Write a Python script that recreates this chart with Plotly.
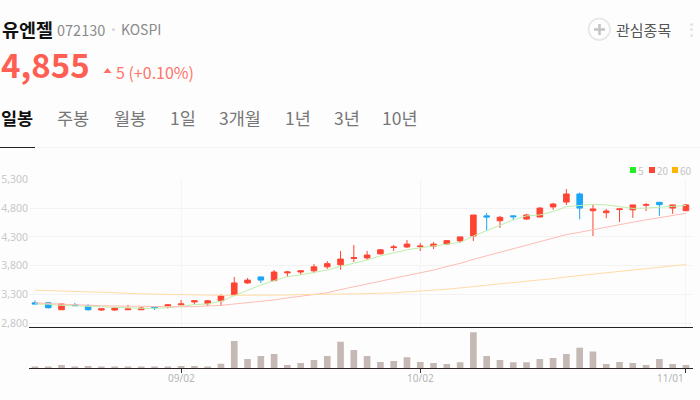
import plotly.graph_objects as go

W = 700
H = 400

day = list(range(50))
open_p = [3155, 3155, 3035, 3125, 3100, 3030, 3030, 3035, 3035, 3090, 3100, 3120, 3170, 3140, 3190, 3290, 3500, 3605, 3540, 3675,
          3690, 3710, 3780, 3815, 3925, 3935, 4005, 4115, 4125, 4130, 4140, 4175, 4230, 4315, 4665, 4580, 4665, 4610, 4645, 4820,
          4905, 5045, 4755, 4720, 4775, 4770, 4850, 4900, 4800, 4755]
close_p = [3135, 3070, 3135, 3105, 3035, 3050, 3065, 3050, 3065, 3065, 3120, 3135, 3190, 3190, 3280, 3500, 3550, 3550, 3690, 3690,
           3710, 3780, 3835, 3915, 3940, 3985, 4075, 4125, 4175, 4140, 4175, 4235, 4300, 4680, 4645, 4640, 4650, 4680, 4800, 4870,
           5045, 4800, 4785, 4750, 4785, 4855, 4860, 4860, 4855, 4855]
high_p = [3195, 3155, 3135, 3155, 3130, 3050, 3085, 3120, 3090, 3090, 3120, 3205, 3190, 3205, 3305, 3605, 3585, 3605, 3725, 3710,
          3710, 3830, 3880, 4055, 4160, 4055, 4090, 4160, 4245, 4195, 4210, 4245, 4300, 4680, 4715, 4665, 4665, 4700, 4815, 4890,
          5130, 5070, 4855, 4785, 4785, 4855, 4890, 4900, 4855, 4870]
low_p = [3130, 3055, 3035, 3100, 3020, 3015, 3015, 3030, 3030, 3030, 3055, 3120, 3135, 3100, 3100, 3290, 3485, 3500, 3540, 3605,
         3640, 3670, 3745, 3730, 3865, 3900, 4000, 4055, 4110, 4055, 4090, 4160, 4195, 4230, 4405, 4455, 4595, 4595, 4645, 4770,
         4855, 4605, 4315, 4625, 4560, 4630, 4750, 4665, 4700, 4750]

ma5 = [3135, 3130, 3110, 3100, 3090, 3080, 3070, 3065, 3060, 3060, 3070, 3095, 3125, 3135, 3180, 3280, 3375, 3465, 3540, 3610,
       3640, 3680, 3725, 3785, 3840, 3900, 3970, 4025, 4075, 4110, 4140, 4175, 4205, 4315, 4410, 4495, 4595, 4665, 4680, 4740,
       4825, 4845, 4865, 4855, 4825, 4795, 4800, 4810, 4830, 4845]
ma20 = [3155, 3140, 3130, 3125, 3110, 3105, 3100, 3095, 3090, 3090, 3085, 3085, 3090, 3095, 3110, 3135, 3155, 3175, 3205, 3240,
        3270, 3305, 3330, 3385, 3430, 3485, 3530, 3580, 3630, 3670, 3725, 3785, 3840, 3910, 3970, 4035, 4090, 4155, 4210, 4275,
        4340, 4380, 4425, 4465, 4520, 4555, 4595, 4635, 4670, 4710]
ma60 = [3375, 3365, 3360, 3355, 3345, 3340, 3325, 3320, 3310, 3305, 3305, 3290, 3290, 3285, 3285, 3285, 3285, 3290, 3290, 3290,
        3300, 3300, 3300, 3305, 3310, 3315, 3320, 3330, 3345, 3355, 3375, 3390, 3410, 3430, 3460, 3485, 3505, 3530, 3550, 3575,
        3605, 3630, 3650, 3675, 3695, 3720, 3745, 3770, 3795, 3820]

volume = [3, 4, 10, 3, 7, 4, 3, 4, 3, 3, 3, 7, 7, 5, 14, 82, 28, 37, 43, 10,
          16, 25, 37, 80, 55, 37, 19, 22, 33, 19, 16, 13, 18, 109, 37, 25, 18, 18, 28, 31,
          43, 62, 51, 13, 19, 16, 10, 28, 13, 10]

price_ticks = [2800, 3300, 3800, 4300, 4800, 5300]
date_ticks = [11, 29, 49]
date_labels = ["09/02", "10/02", "11/01"]
tabs = ["일봉", "주봉", "월봉", "1일", "3개월", "1년", "3년", "10년"]
legend_names = ["5", "20", "60"]

RED = "#ff4433"
BLUE = "#1ba6f5"
KR = "Noto Sans CJK KR"


def px_x(x):
    return x / W


def px_y(y):
    return 1 - y / H


def label(x, y, text, size, color, anchor="left", bold=False):
    if bold:
        text = "<b>" + text + "</b>"
    fig.add_annotation(x=px_x(x), y=px_y(y), xref="paper", yref="paper", text=text, showarrow=False,
                       xanchor=anchor, yanchor="middle", borderpad=0, borderwidth=0,
                       font=dict(family=KR, size=size, color=color))


def box(x0, y0, x1, y1, color):
    fig.add_shape(type="rect", xref="paper", yref="paper", x0=px_x(x0), x1=px_x(x1), y0=px_y(y0), y1=px_y(y1),
                  fillcolor=color, line_width=0)


fig = go.Figure()

fig.add_trace(go.Candlestick(x=day, open=open_p, high=high_p, low=low_p, close=close_p,
                             increasing=dict(line=dict(color=RED, width=1), fillcolor=RED),
                             decreasing=dict(line=dict(color=BLUE, width=1), fillcolor=BLUE),
                             whiskerwidth=0, xaxis="x", yaxis="y", hoverinfo="skip"))
fig.add_trace(go.Scatter(x=day, y=ma5, mode="lines", line=dict(color="#bdeeaa", width=1), xaxis="x", yaxis="y"))
fig.add_trace(go.Scatter(x=day, y=ma20, mode="lines", line=dict(color="#ffbcb4", width=1), xaxis="x", yaxis="y"))
fig.add_trace(go.Scatter(x=day, y=ma60, mode="lines", line=dict(color="#ffdca6", width=1), xaxis="x", yaxis="y"))
fig.add_trace(go.Bar(x=day, y=volume, marker=dict(color="#c4b9b4", line_width=0), width=0.5, xaxis="x2", yaxis="y2"))

fig.update_layout(
    width=W, height=H, margin=dict(l=0, r=0, t=0, b=0, pad=0),
    paper_bgcolor="#fdfdfd", plot_bgcolor="#fdfdfd", showlegend=False, boxgap=0.4,
    font=dict(family="Noto Sans", size=10, color="#c4c4c4"),
    xaxis=dict(domain=[px_x(29), px_x(693)], range=[-0.45, 49.53], rangeslider=dict(visible=False), automargin=False,
               tickmode="array", tickvals=date_ticks, ticktext=["", "", ""], ticklen=0,
               showgrid=True, gridcolor="#f4f4f4", gridwidth=1, zeroline=False, anchor="y",
               showline=True, linecolor="#222222", linewidth=1),
    yaxis=dict(domain=[px_y(327.3), px_y(179.3)], range=[2730, 5300], tickmode="array", tickvals=price_ticks,
               tickformat=",", showgrid=True, gridcolor="#f3f3f3", gridwidth=1, zeroline=False, ticklen=0, automargin=False,
               tickfont=dict(size=10.5, color="#c8c8c8"), anchor="x"),
    xaxis2=dict(domain=[px_x(29), px_x(693)], range=[-0.45, 49.53], tickmode="array", tickvals=date_ticks, automargin=False,
                ticktext=["", "", ""], ticks="outside", ticklen=4, tickcolor="#333333", tickwidth=1,
                showgrid=False, zeroline=False, showline=True, linecolor="#2a2222", linewidth=1, anchor="y2"),
    yaxis2=dict(domain=[px_y(368.3), px_y(327.5)], range=[0, 123], showticklabels=False, showgrid=False, automargin=False,
                zeroline=False, ticks="", anchor="x2"),
)

# date labels sit under the volume panel, the last one is pulled in from the edge
for tick, text in zip(date_ticks, date_labels):
    fig.add_annotation(x=tick, y=px_y(378), xref="x2", yref="paper", text=text, showarrow=False,
                       xanchor="right" if text == date_labels[-1] else "center", yanchor="middle",
                       font=dict(family="Noto Sans", size=10, color="#b5b5b5"))

# header
label(2, 29, "유엔젤", 18.5, "#111111", bold=True)
label(57, 29.5, "072130", 14.5, "#8a8a8a")
label(121, 29.5, "KOSPI", 14, "#8a8a8a")
fig.add_shape(type="circle", xref="paper", yref="paper", x0=px_x(112), x1=px_x(115), y0=px_y(31), y1=px_y(28),
              fillcolor="#d8d8d8", line_width=0)
label(1, 64, "4,855", 33, "#ff5f52", bold=True)
fig.add_shape(type="path", xref="paper", yref="paper",
              path="M {} {} L {} {} L {} {} Z".format(px_x(103.5), px_y(73), px_x(111.5), px_y(73), px_x(107.5), px_y(68)),
              fillcolor="#ff6f63", line_width=0)
label(116, 72, "5 (+0.10%)", 16, "#ff7468")

# watchlist button
fig.add_shape(type="circle", xref="paper", yref="paper", x0=px_x(588.5), x1=px_x(610), y0=px_y(40), y1=px_y(18.5),
              fillcolor="#fdfdfd", line=dict(color="#e6e6e6", width=1.5))
box(594, 28.2, 605, 30.8, "#c4c4c4")
box(598.2, 24, 600.8, 35, "#c4c4c4")
label(616, 29, "관심종목", 15, "#555555")
for dot_y in [24.5, 29.5, 35.5]:
    fig.add_shape(type="circle", xref="paper", yref="paper", x0=px_x(690), x1=px_x(693), y0=px_y(dot_y + 1.5), y1=px_y(dot_y - 1.5),
                  fillcolor="#e4e4e4", line_width=0)

# tabs
tab_left = [1, 57, 114, 170, 219, 285, 334, 382]
for i, tab in enumerate(tabs):
    label(tab_left[i], 118, tab, 17.5, "#111111" if i == 0 else "#777777", bold=i == 0)
box(0, 147, 700, 148, "#f5f5f5")
box(0, 147, 35, 148, "#222222")

# moving average key
key_x = [630, 649, 672]
key_colors = ["#22ee22", RED, "#ffb400"]
for x, name, color in zip(key_x, legend_names, key_colors):
    box(x, 167, x + 6, 173, color)
    label(x + 8, 170, name, 10, "#c4c4c4")

fig.write_html("out.html", config={"displayModeBar": False},
               post_script="document.body.style.margin='0';document.body.style.background='#fdfdfd';")
